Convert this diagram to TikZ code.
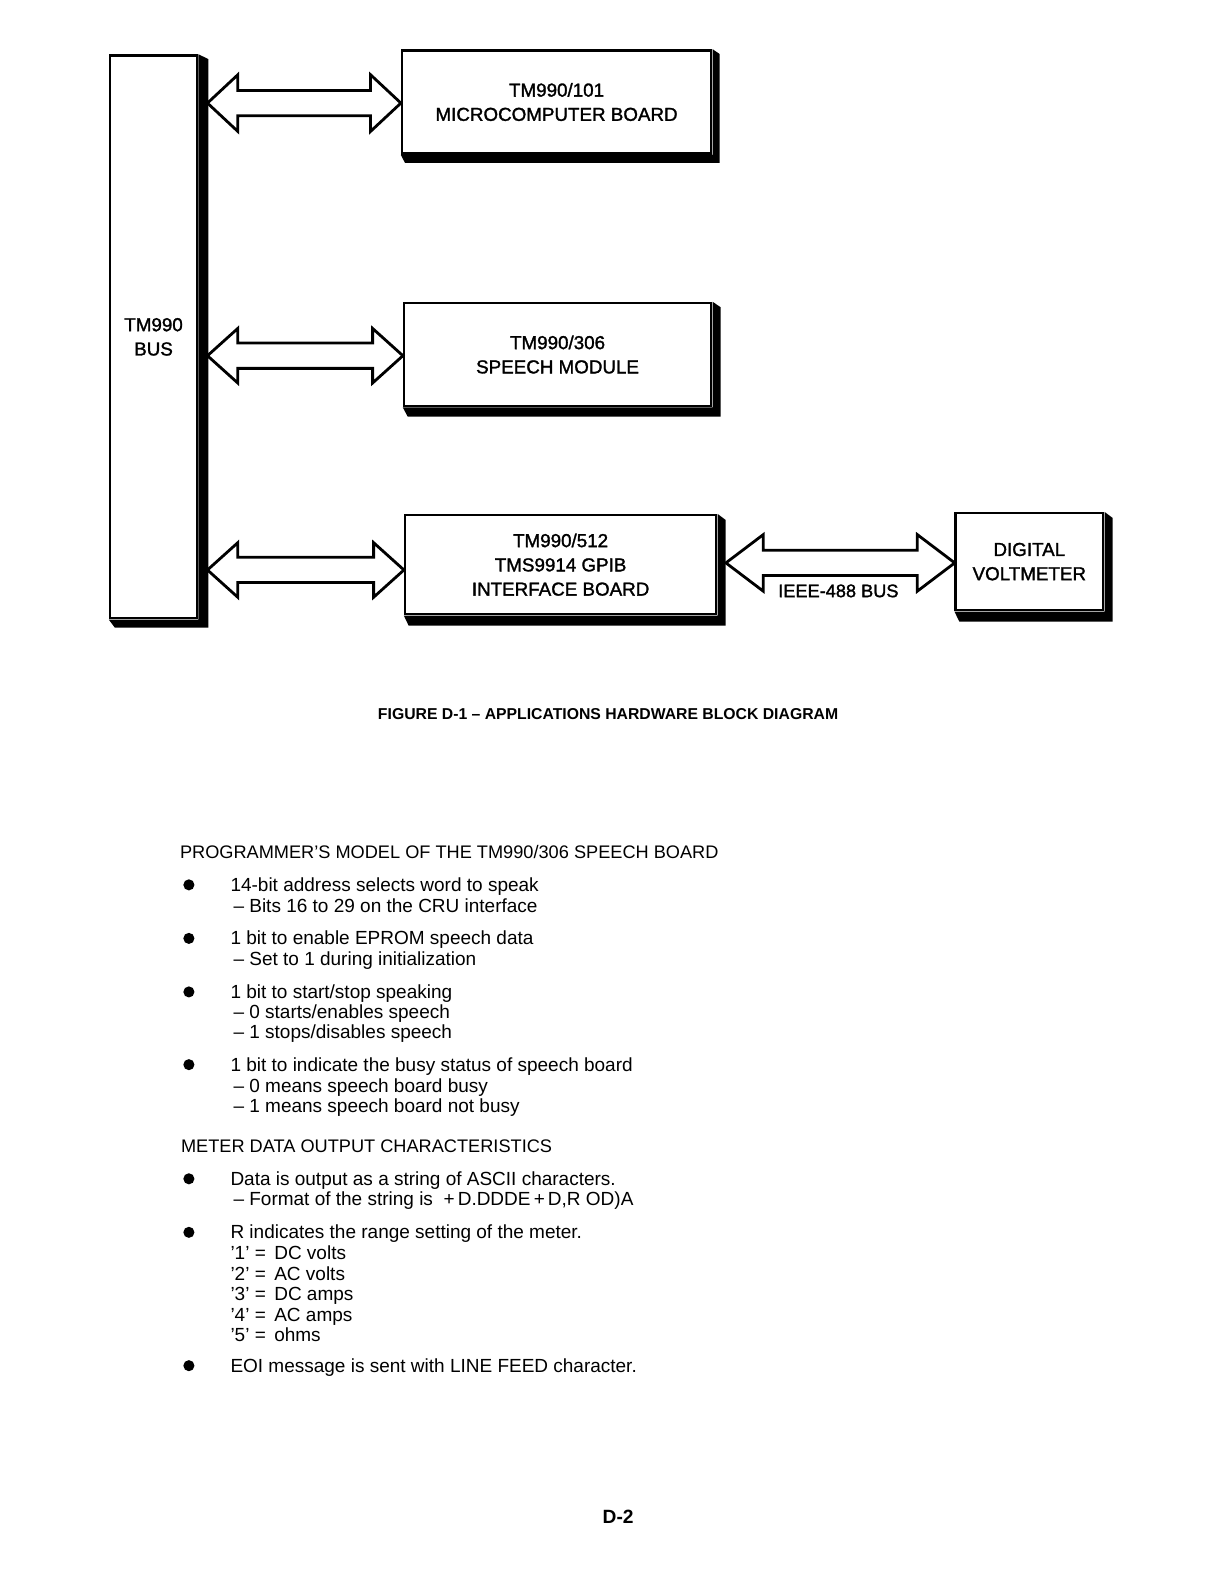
\documentclass[tikz,border=0pt]{standalone}
\usepackage{fontspec}
\setmainfont{Liberation Sans}
\newfontfamily\boxfont{Liberation Sans}[FakeBold=1.5]
\usetikzlibrary{calc}
\newcommand\boardshadow[3]{\fill (#1.north east) -- ++(#2,#3*0.6) -- ($(#1.south east)+(#2,#3)$) -- ($(#1.south west)+(#2*0.6,#3)$) -- (#1.south west) -- (#1.south east) -- cycle;}
\newcommand\busarrow[5]{\draw[dblarrow] let \p1=(#1), \p2=(#2) in
  (\x1,\y1) -- (\x1+#3pt,\y1+#4pt) -- (\x1+#3pt,\y1+#5pt) -- (\x2-#3pt,\y1+#5pt) -- (\x2-#3pt,\y1+#4pt) -- (\x2,\y1)
  -- (\x2-#3pt,\y1-#4pt) -- (\x2-#3pt,\y1-#5pt) -- (\x1+#3pt,\y1-#5pt) -- (\x1+#3pt,\y1-#4pt) -- cycle;}
\begin{document}
\begin{tikzpicture}[x=1pt,y=-1pt, scale=1.0101, transform shape,
  board/.style={draw, line width=2.6pt, fill=white, inner sep=0pt, align=center,
    font=\boxfont\fontsize{18.6}{24}\selectfont},
  dblarrow/.style={line width=2.8pt, line join=miter, fill=white},
  bodytext/.style={anchor=base west, inner sep=0pt, font=\fontsize{18.8}{20}\selectfont},
  headtext/.style={anchor=base west, inner sep=0pt, font=\fontsize{18}{20}\selectfont},
  bulletdot/.style={circle, fill=black, minimum size=11pt, inner sep=0pt}]
\useasboundingbox (0,0) rectangle (1211.76,1568.16);
\fill[white] (0,0) rectangle (1211.76,1568.16);

% boards
\node[board, minimum width=86pt, minimum height=557pt] (bus) at (152,333.5) {TM990\\BUS};
\node[board, minimum width=306pt, minimum height=102pt] (b1) at (551,101) {TM990/101\\MICROCOMPUTER BOARD};
\node[board, minimum width=304pt, minimum height=102pt] (b2) at (552,351) {TM990/306\\SPEECH MODULE};
\node[board, minimum width=308pt, minimum height=98pt] (b3) at (555,559) {TM990/512\\TMS9914 GPIB\\INTERFACE BOARD};
\node[board, minimum width=146pt, minimum height=96pt] (b4) at (1019,556) {DIGITAL\\VOLTMETER};
\boardshadow{bus}{10}{8}
\boardshadow{b1}{7}{8}
\boardshadow{b2}{8}{9}
\boardshadow{b3}{8}{10}
\boardshadow{b4}{8}{10}

% arrows
\coordinate (a1l) at ($(bus.east |- b1.west)+(9,1)$);
\coordinate (a1r) at ($(b1.west)+(0,1)$);
\coordinate (a2l) at ($(bus.east |- b2.west)+(9,1)$);
\coordinate (a2r) at ($(b2.west)+(0,1)$);
\coordinate (a3l) at ($(bus.east |- b3.west)+(9,5)$);
\coordinate (a3r) at ($(b3.west)+(0,5)$);
\coordinate (a4l) at ($(b3.east |- b4.west)+(8,1)$);
\coordinate (a4r) at ($(b4.west)+(0,1)$);
\busarrow{a1l}{a1r}{30}{28}{12.5}
\busarrow{a2l}{a2r}{30}{27}{12.5}
\busarrow{a3l}{a3r}{30}{27}{12.5}
\busarrow{a4l}{a4r}{37}{28}{12.5}
\node[font=\boxfont\fontsize{18}{20}\selectfont, inner sep=0pt] (ieee) at (830,585) {IEEE-488 BUS};

% caption
\node[font=\bfseries\fontsize{15.6}{18}\selectfont, inner sep=0pt] (cap) at (602,707) {FIGURE D-1 -- APPLICATIONS HARDWARE BLOCK DIAGRAM};

% programmer's model
\node[headtext] (h1) at (178,850) {PROGRAMMER’S MODEL OF THE TM990/306 SPEECH BOARD};
\node[bulletdot] (d1) at (187,876) {};
\node[bodytext] (t1) at (228,882.5) {14-bit address selects word to speak};
\node[bodytext] (t1a) at (231,903.5) {-- Bits 16 to 29 on the CRU interface};
\node[bulletdot] (d2) at (187,929) {};
\node[bodytext] (t2) at (228,935.5) {1 bit to enable EPROM speech data};
\node[bodytext] (t2a) at (231,955.5) {-- Set to 1 during initialization};
\node[bulletdot] (d3) at (187,982) {};
\node[bodytext] (t3) at (228,988.5) {1 bit to start/stop speaking};
\node[bodytext] (t3a) at (231,1008.5) {-- 0 starts/enables speech};
\node[bodytext] (t3b) at (231,1028.5) {-- 1 stops/disables speech};
\node[bulletdot] (d4) at (187,1054) {};
\node[bodytext] (t4) at (228,1060.5) {1 bit to indicate the busy status of speech board};
\node[bodytext] (t4a) at (231,1081.5) {-- 0 means speech board busy};
\node[bodytext] (t4b) at (231,1101.5) {-- 1 means speech board not busy};

% meter data
\node[headtext] (h2) at (179,1140.5) {METER DATA OUTPUT CHARACTERISTICS};
\node[bulletdot] (d5) at (187,1167) {};
\node[bodytext] (m1) at (228,1173.5) {Data is output as a string of ASCII characters.};
\node[bodytext] (m1a) at (231,1193.5) {-- Format of the string is \ +\,D.DDDE\,+\,D,R OD)A};
\node[bulletdot] (d6) at (187,1220) {};
\node[bodytext] (m2) at (228,1226.5) {R indicates the range setting of the meter.};
\node[bodytext] (m2a) at (228,1246.5) {’1’\;=\ \,DC volts};
\node[bodytext] (m2b) at (228,1267.5) {’2’\;=\ \,AC volts};
\node[bodytext] (m2c) at (228,1287.5) {’3’\;=\ \,DC amps};
\node[bodytext] (m2d) at (228,1308.5) {’4’\;=\ \,AC amps};
\node[bodytext] (m2e) at (228,1328.5) {’5’\;=\ \,ohms};
\node[bulletdot] (d7) at (187,1352) {};
\node[bodytext] (m3) at (228,1358.5) {EOI message is sent with LINE FEED character.};

% page number
\node[font=\bfseries\fontsize{19}{22}\selectfont, inner sep=0pt] (pg) at (612,1502) {D-2};
\end{tikzpicture}
\end{document}
